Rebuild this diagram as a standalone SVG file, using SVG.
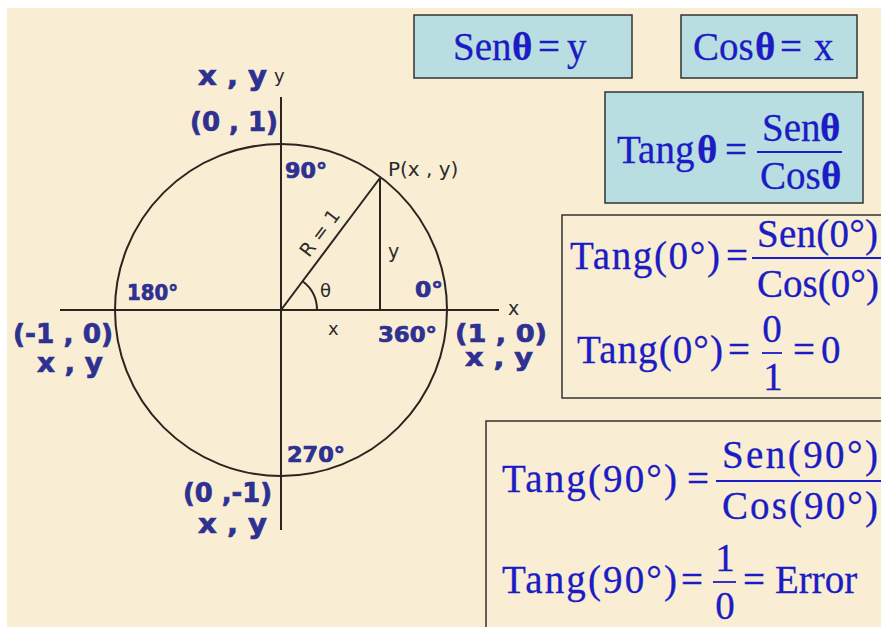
<svg xmlns="http://www.w3.org/2000/svg" width="881" height="627" viewBox="0 0 881 627">
<defs>
<style>
.bg{fill:#f9eed3}
.ln{stroke:#2b2520;stroke-width:2;fill:none}
.box{fill:#b9dee2;stroke:#333;stroke-width:1.5}
.frame{fill:none;stroke:#333;stroke-width:1.5}
.lbl{font-family:"DejaVu Sans",sans-serif;font-weight:bold;fill:#2e3192;stroke:#2e3192;stroke-width:0.7}
.sm{font-family:"DejaVu Sans",sans-serif;fill:#2b2b2b}
.f{font-family:"Liberation Serif","Times New Roman",serif;font-size:39px;fill:#1c1cc4;stroke:#1c1cc4;stroke-width:0.3}
.b{font-weight:bold}
.bar{stroke:#1c1cc4;stroke-width:1.8}
</style>
</defs>
<rect width="881" height="627" fill="#ffffff"/>
<rect x="7" y="8" width="874" height="619" class="bg"/>

<g id="unit-circle">
<circle cx="281" cy="310" r="166" class="ln"/>
</g>

<g id="connectors">
<line x1="60" y1="310" x2="499" y2="310" class="ln"/>
<line x1="281" y1="97" x2="281" y2="530" class="ln"/>
<line x1="281" y1="310" x2="380" y2="178" class="ln"/>
<line x1="380" y1="178" x2="380" y2="310" class="ln"/>
<path d="M317 310 A36 36 0 0 0 302.6 281.2" class="ln"/>
</g>

<g id="circle-labels">
<text class="lbl" x="198" y="85" font-size="26" textLength="69" lengthAdjust="spacingAndGlyphs">x , y</text>
<text class="lbl" x="190" y="131" font-size="26" textLength="88" lengthAdjust="spacingAndGlyphs">(0 , 1)</text>
<text class="lbl" x="285" y="178" font-size="21" textLength="42" lengthAdjust="spacingAndGlyphs">90°</text>
<text class="lbl" x="127" y="300" font-size="21" textLength="51" lengthAdjust="spacingAndGlyphs">180°</text>
<text class="lbl" x="415" y="297" font-size="21" textLength="28" lengthAdjust="spacingAndGlyphs">0°</text>
<text class="lbl" x="378" y="342" font-size="21" textLength="59" lengthAdjust="spacingAndGlyphs">360°</text>
<text class="lbl" x="13" y="343" font-size="26" textLength="100" lengthAdjust="spacingAndGlyphs">(-1 , 0)</text>
<text class="lbl" x="37" y="372" font-size="26" textLength="66" lengthAdjust="spacingAndGlyphs">x , y</text>
<text class="lbl" x="455" y="342" font-size="25" textLength="92" lengthAdjust="spacingAndGlyphs">(1 , 0)</text>
<text class="lbl" x="465" y="366" font-size="25" textLength="68" lengthAdjust="spacingAndGlyphs">x , y</text>
<text class="lbl" x="287" y="462" font-size="21" textLength="58" lengthAdjust="spacingAndGlyphs">270°</text>
<text class="lbl" x="183" y="502" font-size="26" textLength="89" lengthAdjust="spacingAndGlyphs">(0 ,-1)</text>
<text class="lbl" x="198" y="533" font-size="26" textLength="69" lengthAdjust="spacingAndGlyphs">x , y</text>

<text class="sm" x="274" y="82" font-size="18">y</text>
<text class="sm" x="388" y="176" font-size="20">P(x , y)</text>
<text class="sm" font-size="19" text-anchor="middle" transform="translate(325 237) rotate(-53)">R = 1</text>
<text class="sm" x="388" y="258" font-size="19">y</text>
<text class="sm" x="320" y="297" font-size="18">θ</text>
<text class="sm" x="328" y="335" font-size="18">x</text>
<text class="sm" x="508" y="315" font-size="19">x</text>
</g>

<g id="sen-box">
<rect x="414" y="15" width="218" height="63" class="box"/>
<text class="f" y="60"><tspan x="453">Sen</tspan><tspan class="b" x="512">θ</tspan><tspan x="538">=</tspan><tspan x="567">y</tspan></text>
</g>

<g id="cos-box">
<rect x="681" y="15" width="176" height="63" class="box"/>
<text class="f" y="60"><tspan x="693">Cos</tspan><tspan class="b" x="755">θ</tspan><tspan x="780">=</tspan><tspan x="814">x</tspan></text>
</g>

<g id="tang-box">
<rect x="605" y="92" width="258" height="111" class="box"/>
<text class="f" y="163"><tspan x="617">Tang</tspan><tspan class="b" x="697">θ</tspan><tspan x="725">=</tspan></text>
<text class="f" y="141"><tspan x="762">Sen</tspan><tspan class="b" x="820">θ</tspan></text>
<line x1="757" y1="152" x2="842" y2="152" class="bar"/>
<text class="f" y="189"><tspan x="760">Cos</tspan><tspan class="b" x="821">θ</tspan></text>
</g>

<g id="tang-0-box">
<rect x="562" y="215" width="340" height="183" class="frame"/>
<text class="f" x="570" y="269" textLength="150">Tang(0°)</text>
<text class="f" x="726" y="269">=</text>
<line x1="752" y1="258" x2="890" y2="258" class="bar"/>
<text class="f" x="757" y="247" textLength="121">Sen(0°)</text>
<text class="f" x="757" y="297" textLength="122">Cos(0°)</text>
<text class="f" x="577" y="363" textLength="146">Tang(0°)</text>
<text class="f" x="728" y="363">=</text>
<text class="f" x="772" y="342" text-anchor="middle">0</text>
<line x1="762" y1="353" x2="782" y2="353" class="bar"/>
<text class="f" x="773" y="390" text-anchor="middle">1</text>
<text class="f" x="793" y="363">=</text>
<text class="f" x="821" y="363">0</text>
</g>

<g id="tang-90-box">
<rect x="486" y="421" width="420" height="230" class="frame"/>
<text class="f" x="502" y="492" textLength="175">Tang(90°)</text>
<text class="f" x="687" y="492">=</text>
<line x1="716" y1="481" x2="890" y2="481" class="bar"/>
<text class="f" x="722" y="468" textLength="156">Sen(90°)</text>
<text class="f" x="722" y="519" textLength="156">Cos(90°)</text>
<text class="f" x="502" y="593" textLength="175">Tang(90°)</text>
<text class="f" x="681" y="593">=</text>
<text class="f" x="725" y="571" text-anchor="middle">1</text>
<line x1="713" y1="582" x2="736" y2="582" class="bar"/>
<text class="f" x="725" y="619" text-anchor="middle">0</text>
<text class="f" x="743" y="593">=</text>
<text class="f" x="775" y="593">Error</text>
</g>
</svg>
